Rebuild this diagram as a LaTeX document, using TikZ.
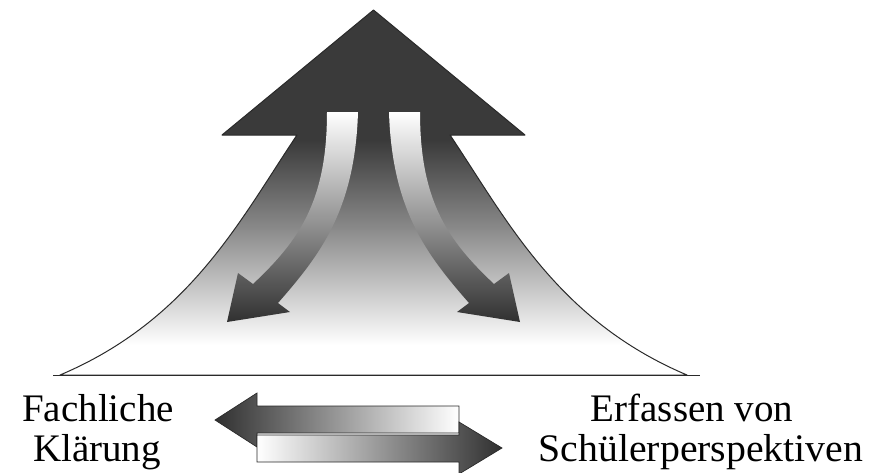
\documentclass[tikz,border=0pt]{standalone}
\usepackage{fontspec}
\setmainfont{Liberation Serif}
\definecolor{darkfill}{HTML}{3A3A3A}
\definecolor{darkline}{HTML}{2A2A2A}
\definecolor{midgray}{HTML}{8C8C8C}
\definecolor{arrowmid}{HTML}{828282}
\definecolor{arrowdark}{HTML}{303030}
\begin{document}
\begin{tikzpicture}[x=1pt,y=-1pt,
  outl/.style={draw=darkline, line width=1pt, line join=round},
  lbl/.style={font=\fontsize{39}{41}\selectfont, inner sep=0pt, anchor=base},
  downarrow/.style={top color=white, middle color=arrowmid, bottom color=arrowdark},
  flatarrow/.style={draw=darkline, line width=0.7pt, line join=miter},
]
\useasboundingbox (0,0) rectangle (870,472);
\def\bellpath{(373.5,10) -- (525,135) -- (450,135) .. controls (507,220) and (557,320) .. (687,375) -- (60,375) .. controls (190,320) and (240,220) .. (297,135) -- (222,135) -- cycle}
% bell with big arrow head
\begin{scope}
  \clip \bellpath;
  \fill[darkfill] (0,0) rectangle (870,141);
  \shade[top color=darkfill, bottom color=midgray] (0,140) rectangle (870,231);
  \shade[top color=midgray, bottom color=white] (0,230) rectangle (870,345);
\end{scope}
\draw[outl] \bellpath;
\draw[darkline, line width=1pt] (53,375) -- (700,375);
% curved arrows inside
\shade[downarrow] (327,112) -- (358,112) .. controls (355,210) and (320,255) .. (278,303) -- (290,312) -- (227,322) -- (238,273) -- (253,284) .. controls (300,240) and (327,200) .. (327,112) -- cycle;
\shade[downarrow] (420,112) -- (389,112) .. controls (392,210) and (427,255) .. (469,303) -- (457,312) -- (520,322) -- (509,273) -- (494,284) .. controls (447,240) and (420,200) .. (420,112) -- cycle;
% bottom double arrows
\shade[flatarrow, left color=arrowdark, middle color=arrowmid!80!black, right color=white] (459,406) -- (257,406) -- (257,393) -- (215,420) -- (257,447) -- (257,433) -- (459,433) -- cycle;
\shade[flatarrow, left color=white, middle color=arrowmid, right color=arrowdark] (257,435) -- (459,435) -- (459,422) -- (502,448) -- (459,474) -- (459,462) -- (257,462) -- cycle;
% labels
\node[lbl] (fach1) at (98,421) {Fachliche};
\node[lbl] (fach2) at (97,461) {Klärung};
\node[lbl] (erf1) at (692,421) {Erfassen von};
\node[lbl] (erf2) at (701,461) {\scalebox{1.02}[1]{Schülerperspektiven}};
\end{tikzpicture}
\end{document}
